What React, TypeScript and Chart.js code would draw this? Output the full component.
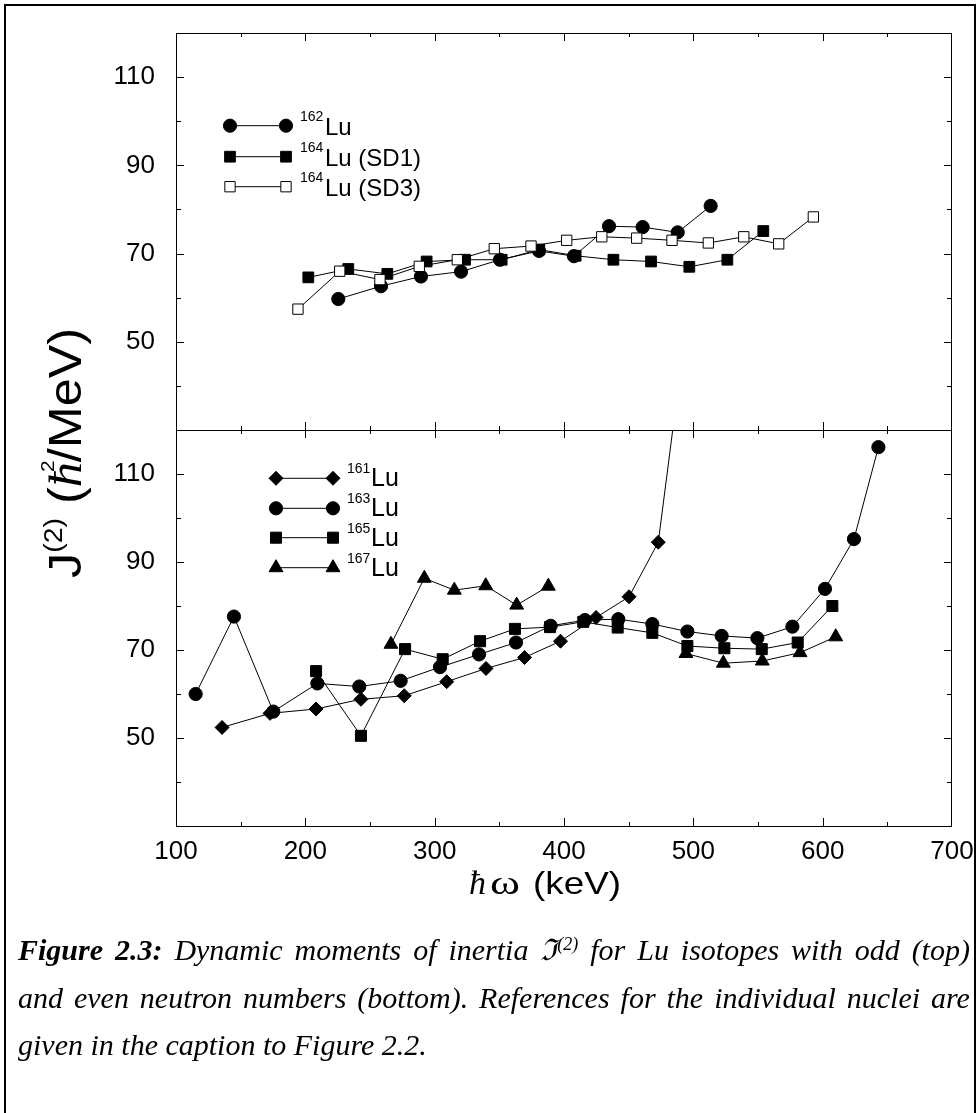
import React, { useEffect, useRef } from 'react';
import { Chart, registerables } from 'chart.js';
Chart.register(...registerables);

// ---------- data ----------
const xTickLabels = [100, 200, 300, 400, 500, 600, 700];
const yTickLabels = [50, 70, 90, 110];

// top panel (odd neutron number)
const lu162X = [225.5, 258.5, 289.4, 320.4, 350.5, 380.7, 407.7, 434.8, 460.8, 487.9, 513.4];
const lu162Y = [59.7, 62.6, 64.8, 65.9, 68.6, 70.6, 69.4, 76.2, 76.0, 74.8, 80.8];

const lu164sd1X = [202.3, 233.2, 263.4, 293.8, 323.5, 351.8, 380.9, 409.0, 438.2, 467.3, 496.9, 526.3, 554.1];
const lu164sd1Y = [64.6, 66.5, 65.4, 68.2, 68.6, 68.6, 70.9, 69.5, 68.6, 68.2, 67.0, 68.6, 75.1];

const lu164sd3X = [194.3, 226.6, 257.7, 288.1, 317.5, 346.1, 374.5, 402.1, 429.2, 456.2, 483.5, 511.6, 539.0, 566.0, 592.8];
const lu164sd3Y = [57.4, 66.0, 64.1, 67.1, 68.6, 71.1, 71.7, 73.0, 73.8, 73.5, 73.0, 72.4, 73.8, 72.2, 78.3];

// bottom panel (even neutron number)
const lu161X = [135.6, 172.7, 208.3, 243.0, 276.5, 309.3, 339.7, 369.5, 397.3, 424.8, 450.3, 472.9, 495.0];
const lu161Y = [52.4, 55.6, 56.6, 58.8, 59.6, 62.8, 65.8, 68.3, 72.0, 77.4, 82.1, 94.5, 145.0];

const lu163X = [115.2, 144.8, 175.2, 209.3, 241.7, 273.7, 304.1, 334.3, 362.9, 389.7, 416.2, 442.0, 468.3, 495.4, 521.9, 549.5, 576.6, 601.8, 624.2, 643.1];
const lu163Y = [60.0, 77.6, 56.0, 62.4, 61.7, 63.0, 66.1, 69.0, 71.7, 75.5, 76.8, 77.0, 75.9, 74.2, 73.2, 72.7, 75.3, 83.9, 95.2, 116.1];

const lu165X = [208.3, 243.0, 277.1, 306.2, 335.1, 362.1, 389.2, 414.9, 441.5, 468.3, 495.4, 524.0, 552.9, 580.7, 607.5];
const lu165Y = [65.2, 50.5, 70.2, 67.9, 72.0, 74.8, 75.2, 76.4, 75.1, 73.9, 70.9, 70.4, 70.2, 71.7, 80.0];

const lu167X = [266.2, 292.0, 315.2, 339.5, 363.4, 387.9, 440.0, 494.3, 523.2, 553.3, 582.5, 610.1];
const lu167Y = [71.3, 86.3, 83.6, 84.6, 80.2, 84.5, null, 69.2, 67.0, 67.5, 69.4, 73.0];

// ---------- layout ----------
const W = 978;
const H = 1113;
const PLOT_LEFT = 176;
const PLOT_RIGHT = 952;
const PLOT_TOP = 33;
const PLOT_MID = 430;
const PLOT_BOTTOM = 826;
const X_AXIS_H = 60;

const SANS = '"Liberation Sans", Arial, sans-serif';
const SERIF = '"Liberation Serif", "Times New Roman", serif';

function zip(xs: number[], ys: (number | null)[]) {
  return xs.map((x, i) => ({ x, y: ys[i] }));
}

function drawMarker(ctx: CanvasRenderingContext2D, style: string, x: number, y: number, r: number, fill: string) {
  ctx.beginPath();
  if (style === 'circle') {
    ctx.arc(x, y, r, 0, Math.PI * 2);
  } else if (style === 'rect') {
    const s = r * Math.SQRT1_2;
    ctx.rect(x - s, y - s, 2 * s, 2 * s);
  } else if (style === 'rectRot') {
    ctx.moveTo(x - r, y);
    ctx.lineTo(x, y - r);
    ctx.lineTo(x + r, y);
    ctx.lineTo(x, y + r);
    ctx.closePath();
  } else if (style === 'triangle') {
    let a = 0;
    ctx.moveTo(x + Math.sin(a) * r, y - Math.cos(a) * r);
    a += (2 * Math.PI) / 3;
    ctx.lineTo(x + Math.sin(a) * r, y - Math.cos(a) * r);
    a += (2 * Math.PI) / 3;
    ctx.lineTo(x + Math.sin(a) * r, y - Math.cos(a) * r);
    ctx.closePath();
  }
  ctx.fillStyle = fill;
  ctx.fill();
  ctx.strokeStyle = '#000';
  ctx.lineWidth = 1;
  ctx.stroke();
}

type Series = { name: string; sup: string; label: string; xs: number[]; ys: (number | null)[]; style: string; r: number; fill: string };

const topSeries: Series[] = [
  { name: 'sd3', sup: '164', label: 'Lu (SD3)', xs: lu164sd3X, ys: lu164sd3Y, style: 'rect', r: 7.3, fill: '#ffffff' },
  { name: '162', sup: '162', label: 'Lu', xs: lu162X, ys: lu162Y, style: 'circle', r: 6.6, fill: '#000000' },
  { name: 'sd1', sup: '164', label: 'Lu (SD1)', xs: lu164sd1X, ys: lu164sd1Y, style: 'rect', r: 7.6, fill: '#000000' },
];
const topLegendOrder = ['162', 'sd1', 'sd3'];

const botSeries: Series[] = [
  { name: '161', sup: '161', label: 'Lu', xs: lu161X, ys: lu161Y, style: 'rectRot', r: 7, fill: '#000000' },
  { name: '163', sup: '163', label: 'Lu', xs: lu163X, ys: lu163Y, style: 'circle', r: 6.6, fill: '#000000' },
  { name: '165', sup: '165', label: 'Lu', xs: lu165X, ys: lu165Y, style: 'rect', r: 7.8, fill: '#000000' },
  { name: '167', sup: '167', label: 'Lu', xs: lu167X, ys: lu167Y, style: 'triangle', r: 8, fill: '#000000' },
];
const botLegendOrder = ['161', '163', '165', '167'];

function framePlugin(id: string, yMin: number, yMax: number, legend: any, extra?: (chart: any) => void) {
  return {
    id,
    afterDraw(chart: any) {
      const { ctx, chartArea: a, scales } = chart;
      ctx.save();
      ctx.strokeStyle = '#000';
      ctx.lineWidth = 1;
      ctx.strokeRect(a.left + 0.5, a.top + 0.5, a.right - a.left - 1, a.bottom - a.top);
      ctx.beginPath();
      for (let v = 150; v < 700; v += 50) {
        const px = Math.round(scales.x.getPixelForValue(v)) + 0.5;
        const len = v % 100 === 0 ? 8 : 4;
        ctx.moveTo(px, a.top);
        ctx.lineTo(px, a.top + len);
        ctx.moveTo(px, a.bottom);
        ctx.lineTo(px, a.bottom - len);
      }
      for (let v = yMin + 10; v < yMax; v += 10) {
        const py = Math.round(scales.y.getPixelForValue(v)) + 0.5;
        const len = yTickLabels.includes(v) ? 8 : 5;
        ctx.moveTo(a.left, py);
        ctx.lineTo(a.left + len, py);
        ctx.moveTo(a.right, py);
        ctx.lineTo(a.right - len, py);
      }
      ctx.stroke();

      // legend
      legend.order.forEach((name: string, i: number) => {
        const s = legend.series.find((q: Series) => q.name === name);
        const cy = legend.rows[i];
        ctx.beginPath();
        ctx.moveTo(legend.m1, cy);
        ctx.lineTo(legend.m2, cy);
        ctx.strokeStyle = '#000';
        ctx.lineWidth = 1;
        ctx.stroke();
        drawMarker(ctx, s.style, legend.m1, cy, s.r, s.fill);
        drawMarker(ctx, s.style, legend.m2, cy, s.r, s.fill);
        ctx.fillStyle = '#000';
        ctx.textAlign = 'left';
        ctx.textBaseline = 'alphabetic';
        ctx.font = `14px ${SANS}`;
        ctx.fillText(s.sup, legend.supX, cy - 5);
        ctx.font = `${legend.fs}px ${SANS}`;
        ctx.fillText(s.label, legend.luX, cy + legend.luDy);
      });
      if (extra) extra(chart);
      ctx.restore();
    },
  };
}

function drawTitles(chart: any) {
  const ctx: CanvasRenderingContext2D = chart.ctx;
  // y title, rotated, stretched along its length
  const pieces = [
    { t: 'J', font: `46px ${SANS}`, dy: 0, adv: true, back: 0 },
    { t: '(2)', font: `26px ${SANS}`, dy: -19, adv: true, back: 0 },
    { t: ' ', font: `46px ${SANS}`, dy: 0, adv: true, back: 0 },
    { t: '(', font: `46px ${SANS}`, dy: 0, adv: true, back: 0 },
    { t: 'ħ', font: `italic 46px ${SERIF}`, dy: 0, adv: true, back: 0 },
    { t: '2', font: `19px ${SANS}`, dy: -27, adv: false, back: 9 },
    { t: '/MeV)', font: `46px ${SANS}`, dy: 0, adv: true, back: 0 },
  ];
  let total = 0;
  pieces.forEach((p) => {
    ctx.font = p.font;
    if (p.adv) total += ctx.measureText(p.t).width;
  });
  const targetLen = 250;
  const k = targetLen / total;
  ctx.save();
  ctx.translate(81, 453);
  ctx.rotate(-Math.PI / 2);
  ctx.scale(k, 1);
  ctx.fillStyle = '#000';
  ctx.textBaseline = 'alphabetic';
  ctx.textAlign = 'left';
  let x = -total / 2;
  pieces.forEach((p) => {
    ctx.font = p.font;
    const w = ctx.measureText(p.t).width;
    if (p.adv) {
      ctx.fillText(p.t, x, p.dy);
      x += w;
    } else {
      ctx.fillText(p.t, x - p.back, p.dy);
    }
  });
  ctx.restore();

  // x title
  ctx.save();
  ctx.fillStyle = '#000';
  ctx.textBaseline = 'alphabetic';
  ctx.textAlign = 'left';
  const by = 894;
  ctx.font = `italic 34px ${SERIF}`;
  ctx.fillText('ħ', 469, by);
  ctx.font = `34px ${SERIF}`;
  const ow = ctx.measureText('ω').width;
  ctx.save();
  ctx.translate(490, by);
  ctx.scale(30 / ow, 1);
  ctx.fillText('ω', 0, 0);
  ctx.restore();
  ctx.font = `32px ${SANS}`;
  const kw = ctx.measureText('(keV)').width;
  ctx.translate(533, by);
  ctx.scale(88 / kw, 1);
  ctx.fillText('(keV)', 0, 0);
  ctx.restore();
}

function makeDatasets(series: Series[]) {
  return series.map((s) => ({
    label: s.sup + s.label,
    data: zip(s.xs, s.ys),
    borderColor: '#000',
    borderWidth: 1,
    pointStyle: s.style,
    pointRadius: s.r,
    pointHoverRadius: s.r,
    pointBackgroundColor: s.fill,
    pointBorderColor: '#000',
    pointBorderWidth: 1,
    showLine: true,
    spanGaps: false,
    tension: 0,
    fill: false,
  }));
}

function baseOptions(yMin: number, yMax: number, padding: any, showX: boolean) {
  return {
    responsive: false,
    animation: false,
    devicePixelRatio: 1,
    layout: { padding },
    plugins: { legend: { display: false }, tooltip: { enabled: false }, title: { display: false } },
    events: [],
    scales: {
      x: {
        type: 'linear',
        min: 100,
        max: 700,
        display: showX,
        grid: { display: false, drawTicks: false, tickLength: 0 },
        border: { display: false },
        ticks: {
          stepSize: 50,
          autoSkip: false,
          maxRotation: 0,
          padding: 10,
          color: '#000',
          font: { family: SANS, size: 26 },
          callback: (v: number) => (xTickLabels.includes(v) ? String(v) : ''),
        },
        afterFit: (s: any) => {
          s.height = showX ? X_AXIS_H : 0;
          s.paddingLeft = 0;
          s.paddingRight = 0;
          s.paddingTop = 0;
          s.paddingBottom = 0;
        },
      },
      y: {
        type: 'linear',
        min: yMin,
        max: yMax,
        grid: { display: false, drawTicks: false, tickLength: 0 },
        border: { display: false },
        ticks: {
          stepSize: 10,
          autoSkip: false,
          padding: 21,
          color: '#000',
          font: { family: SANS, size: 26 },
          callback: (v: number) => (yTickLabels.includes(v) ? String(v) : ''),
        },
        afterFit: (s: any) => {
          s.width = PLOT_LEFT;
          s.paddingLeft = 0;
          s.paddingRight = 0;
          s.paddingTop = 0;
          s.paddingBottom = 0;
        },
      },
    },
  };
}

export default function App() {
  const topRef = useRef<HTMLCanvasElement>(null);
  const botRef = useRef<HTMLCanvasElement>(null);

  useEffect(() => {
    const topLegend = { order: topLegendOrder, series: topSeries, rows: [125.7, 156.7, 186.7], m1: 230, m2: 286, supX: 300, luX: 325, fs: 24, luDy: 9 };
    const botLegend = { order: botLegendOrder, series: botSeries, rows: [478.3, 508.3, 537.7, 567.7], m1: 276, m2: 333, supX: 347, luX: 371, fs: 25, luDy: 8 };

    const c1 = new Chart(topRef.current as HTMLCanvasElement, {
      type: 'line',
      data: { datasets: makeDatasets(topSeries) as any },
      options: baseOptions(30, 120, { left: 0, top: PLOT_TOP, right: W - PLOT_RIGHT, bottom: H - PLOT_MID }, false) as any,
      plugins: [framePlugin('frameTop', 30, 120, topLegend)],
    });
    const c2 = new Chart(botRef.current as HTMLCanvasElement, {
      type: 'line',
      data: { datasets: makeDatasets(botSeries) as any },
      options: baseOptions(30, 120, { left: 0, top: PLOT_MID, right: W - PLOT_RIGHT, bottom: H - PLOT_BOTTOM - X_AXIS_H }, true) as any,
      plugins: [framePlugin('frameBot', 30, 120, botLegend, drawTitles)],
    });
    return () => {
      c1.destroy();
      c2.destroy();
    };
  }, []);

  const capBase: React.CSSProperties = {
    position: 'absolute',
    left: 18,
    width: 952,
    fontFamily: SERIF,
    fontStyle: 'italic',
    fontSize: 30,
    lineHeight: '28px',
    color: '#000',
    whiteSpace: 'nowrap',
  };

  return (
    <div style={{ position: 'absolute', left: 0, top: 0, width: W, height: H, overflow: 'hidden', background: '#fff' }}>
      <div style={{ position: 'absolute', left: 4, top: 4, width: 972, height: 1140, border: '2px solid #000', boxSizing: 'border-box' }} />
      <canvas ref={topRef} width={W} height={H} style={{ position: 'absolute', left: 0, top: 0 }} />
      <canvas ref={botRef} width={W} height={H} style={{ position: 'absolute', left: 0, top: 0 }} />
      <div style={{ ...capBase, top: 936, display: 'flex', justifyContent: 'space-between' }}>
        {'Figure 2.3: Dynamic moments of inertia ℑ(2) for Lu isotopes with odd (top)'.split(' ').map((w, i) => {
          if (i < 2) return <span key={i} style={{ fontWeight: 'bold' }}>{w}</span>;
          if (w === 'ℑ(2)') return <span key={i}>ℑ<sup style={{ fontSize: 18, verticalAlign: 'top', lineHeight: '17px' }}>(2)</sup></span>;
          return <span key={i}>{w}</span>;
        })}
      </div>
      <div style={{ ...capBase, top: 984, display: 'flex', justifyContent: 'space-between' }}>
        {'and even neutron numbers (bottom). References for the individual nuclei are'.split(' ').map((w, i) => (
          <span key={i}>{w}</span>
        ))}
      </div>
      <div style={{ ...capBase, top: 1031 }}>given in the caption to Figure 2.2.</div>
    </div>
  );
}
